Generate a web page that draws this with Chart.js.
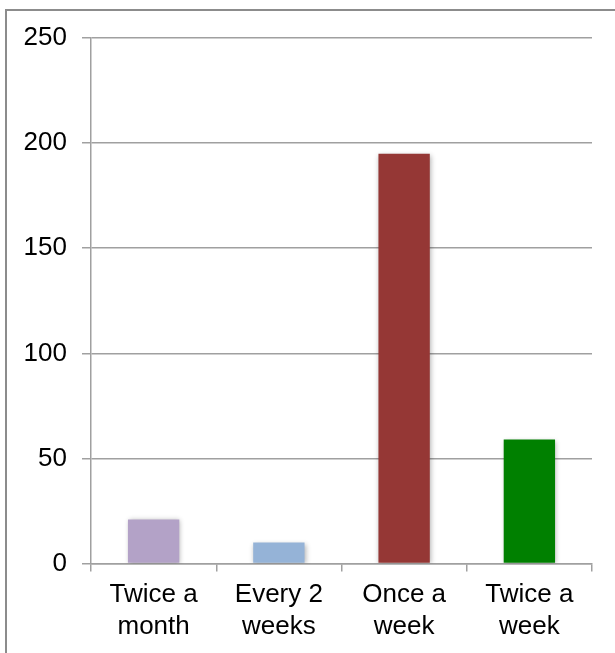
<!DOCTYPE html>
<html>
<head>
<meta charset="utf-8">
<script src="https://cdn.jsdelivr.net/npm/chart.js@4"></script>
<style>
  body { margin: 0; background: #fff; }
  #wrap { position: relative; width: 615px; height: 653px; overflow: hidden; }
  #frame { position: absolute; left: 5px; top: 9px; width: 700px; height: 700px;
           border-left: 2px solid #8c8c8c; border-top: 2px solid #8c8c8c; }
  canvas { position: absolute; left: 0; top: 0; }
</style>
</head>
<body>
<div id="wrap">
  <div id="frame"></div>
  <canvas id="myChart" width="615" height="653"></canvas>
</div>
<script>
// data
const categories = [['Twice a', 'month'], ['Every 2', 'weeks'], ['Once a', 'week'], ['Twice a', 'week']]
const counts = [21, 10, 195, 59]
const barColors = ['#b3a2c7', '#95b3d7', '#953735', '#008000']
const yTicks = [0, 50, 100, 150, 200, 250]

const font = { family: "'Liberation Sans', Arial, sans-serif", size: 26, lineHeight: 1.2 }
const gridGrey = '#a0a0a0'

// soft shadow under the bars
const barShadow = {
  id: 'barShadow',
  beforeDatasetsDraw(chart) {
    const ctx = chart.ctx
    ctx.save()
    ctx.shadowColor = 'rgba(0,0,0,0.3)'
    ctx.shadowBlur = 5
    ctx.shadowOffsetX = 1
    ctx.shadowOffsetY = 1
  },
  afterDatasetsDraw(chart) {
    chart.ctx.restore()
  }
}

const data = {
  labels: categories,
  datasets: [{
    data: counts,
    backgroundColor: barColors,
    borderWidth: 0,
    barPercentage: 0.41,
    categoryPercentage: 1
  }]
}

const config = {
  type: 'bar',
  data,
  plugins: [barShadow],
  options: {
    responsive: false,
    animation: false,
    layout: { padding: { top: 38, right: 23, left: 0, bottom: 3 } },
    plugins: { legend: { display: false }, tooltip: { enabled: false } },
    scales: {
      x: {
        grid: { display: true, drawOnChartArea: false, drawTicks: true, tickLength: 8, color: gridGrey, lineWidth: 1.5 },
        border: { display: true, color: gridGrey, width: 1.5 },
        ticks: { color: '#000', font, padding: 8, maxRotation: 0 }
      },
      y: {
        min: 0,
        max: 250,
        afterBuildTicks(scale) { scale.ticks = yTicks.map(v => ({ value: v })) },
        afterFit(scale) { scale.width = 91 },
        grid: { color: gridGrey, lineWidth: 1.5, tickLength: 9 },
        border: { display: true, color: gridGrey, width: 1.5 },
        ticks: { color: '#000', font, padding: 15 }
      }
    }
  }
}

const myChart = new Chart(document.getElementById('myChart'), config)
</script>
</body>
</html>
